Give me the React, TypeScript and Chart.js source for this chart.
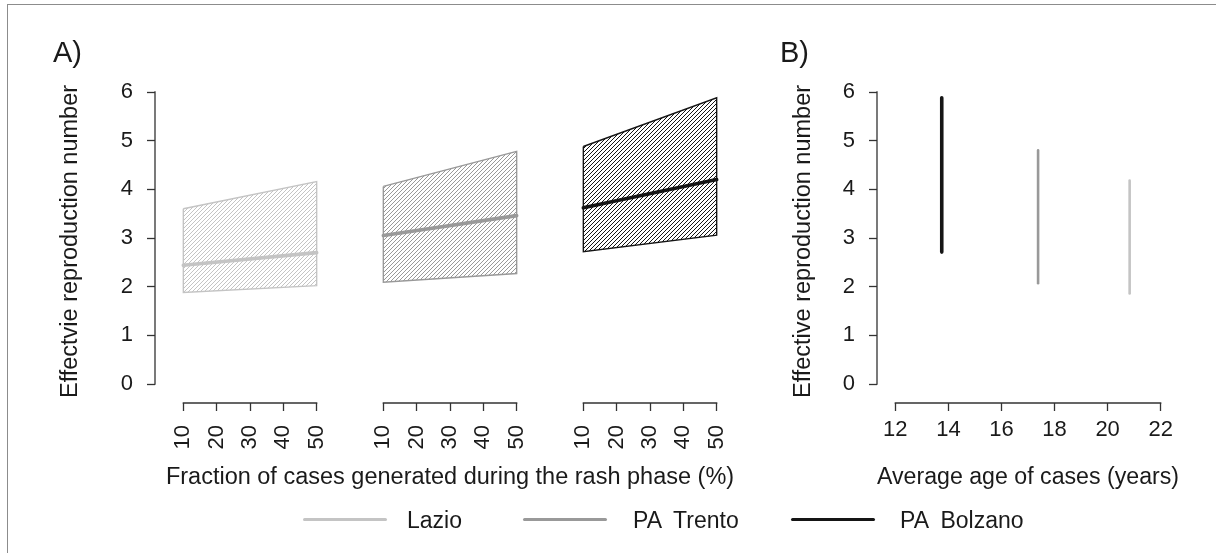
import React, { useEffect, useRef } from "react";
import { Chart, registerables } from "chart.js";

Chart.register(...registerables);

// ---------- data ----------
const regions = ["Lazio", "PA  Trento", "PA  Bolzano"];
const regionColors = ["#c4c4c4", "#999999", "#151515"];

const fractionTicks = [10, 20, 30, 40, 50];
const fractionEnds = [10, 50];
const groupShift = 60;

const lazioLow = [1.88, 2.02];
const lazioHigh = [3.6, 4.16];
const lazioMid = [2.44, 2.7];
const trentoLow = [2.09, 2.27];
const trentoHigh = [4.06, 4.78];
const trentoMid = [3.05, 3.46];
const bolzanoLow = [2.72, 3.06];
const bolzanoHigh = [4.88, 5.88];
const bolzanoMid = [3.62, 4.2];

const lowBounds = [lazioLow, trentoLow, bolzanoLow];
const highBounds = [lazioHigh, trentoHigh, bolzanoHigh];
const midLines = [lazioMid, trentoMid, bolzanoMid];

const ageOfCases = [20.83, 17.38, 13.75];
const rangeLow = [1.86, 2.07, 2.71];
const rangeHigh = [4.18, 4.8, 5.88];

const reproTicks = [0, 1, 2, 3, 4, 5, 6];
const ageTicks = [12, 14, 16, 18, 20, 22];

// ---------- style ----------
const FONT = '"Liberation Sans", Arial, Helvetica, sans-serif';
const INK = "#1a1a1a";
const AXIS = "#333333";
const TICK_FONT = { family: FONT, size: 22, lineHeight: 1.2 };
const TITLE_FONT = { family: FONT, size: 23.5, lineHeight: 1.2 };

function hatch(ctx: CanvasRenderingContext2D, color: string, size = 4, width = 1) {
  const c = document.createElement("canvas");
  c.width = size;
  c.height = size;
  const g = c.getContext("2d")!;
  g.strokeStyle = color;
  g.lineWidth = width;
  g.beginPath();
  for (let k = -1; k <= 1; k++) {
    g.moveTo(k * size, size);
    g.lineTo(k * size + size, 0);
  }
  g.stroke();
  return ctx.createPattern(c, "repeat")!;
}

function rAxes(xSegments: [number, number][], ySpan: [number, number]) {
  return {
    id: "rAxes",
    afterDraw(chart: any) {
      const { ctx, chartArea, scales } = chart;
      const x = scales.x;
      const y = scales.y;
      ctx.save();
      ctx.strokeStyle = AXIS;
      ctx.lineWidth = 1.3;
      ctx.beginPath();
      for (const [a, b] of xSegments) {
        ctx.moveTo(x.getPixelForValue(a) - 0.65, chartArea.bottom);
        ctx.lineTo(x.getPixelForValue(b) + 0.65, chartArea.bottom);
      }
      ctx.moveTo(chartArea.left, y.getPixelForValue(ySpan[0]) + 0.65);
      ctx.lineTo(chartArea.left, y.getPixelForValue(ySpan[1]) - 0.65);
      ctx.stroke();
      ctx.restore();
    },
  };
}

const gridTicks = {
  display: true,
  drawOnChartArea: false,
  drawTicks: true,
  tickLength: 8,
  tickColor: AXIS,
  tickWidth: 1.3,
};

function yScale(width: number, title: string, titlePad: number) {
  return {
    type: "linear",
    min: -0.39,
    max: 6.2466,
    afterBuildTicks: (s: any) => {
      s.ticks = reproTicks.map((v) => ({ value: v }));
    },
    afterFit: (s: any) => {
      s.width = width;
    },
    ticks: { font: TICK_FONT, color: INK, padding: 14, callback: (v: any) => String(v) },
    grid: gridTicks,
    border: { display: false },
    title: {
      display: true,
      text: title,
      font: TITLE_FONT,
      color: INK,
      padding: { top: titlePad, bottom: 0 },
    },
  };
}

export default function App() {
  const aRef = useRef<HTMLCanvasElement>(null);
  const bRef = useRef<HTMLCanvasElement>(null);

  useEffect(() => {
    const ca = aRef.current!;
    const cb = bRef.current!;
    const ctxA = ca.getContext("2d")!;

    const bandSets = regions.map((name, i) => {
      const s = i * groupShift;
      const lo = lowBounds[i];
      const hi = highBounds[i];
      return {
        label: name + " range",
        data: [
          { x: fractionEnds[0] + s, y: hi[0] },
          { x: fractionEnds[1] + s, y: hi[1] },
          { x: fractionEnds[1] + s, y: lo[1] },
          { x: fractionEnds[0] + s, y: lo[0] },
          { x: fractionEnds[0] + s, y: hi[0] },
        ],
        borderColor: regionColors[i],
        borderWidth: 1.4,
        backgroundColor: hatch(ctxA, regionColors[i], 4, 1),
        fill: "shape",
        pointRadius: 0,
        tension: 0,
        borderJoinStyle: "miter",
      };
    });
    const midSets = regions.map((name, i) => ({
      label: name,
      data: fractionEnds.map((f, j) => ({ x: f + i * groupShift, y: midLines[i][j] })),
      borderColor: regionColors[i],
      borderWidth: 3.6,
      borderCapStyle: "round",
      pointRadius: 0,
      fill: false,
      tension: 0,
    }));

    const xTicksA: number[] = [];
    regions.forEach((_, i) => fractionTicks.forEach((f) => xTicksA.push(f + i * groupShift)));

    const chartA = new Chart(ca, {
      type: "line",
      data: { datasets: [...bandSets, ...midSets] as any },
      options: {
        animation: false,
        responsive: false,
        events: [],
        layout: { padding: { top: 80, right: 15, bottom: 0, left: 0 } },
        plugins: { legend: { display: false }, tooltip: { enabled: false } },
        scales: {
          x: {
            type: "linear",
            min: 1.5,
            max: 178.5,
            afterBuildTicks: (s: any) => {
              s.ticks = xTicksA.map((v) => ({ value: v }));
            },
            afterFit: (s: any) => {
              s.height = 150;
            },
            ticks: {
              font: TICK_FONT,
              color: INK,
              padding: 14,
              autoSkip: false,
              minRotation: 90,
              maxRotation: 90,
              callback: (v: any) => String(Math.round(Number(v)) % groupShift),
            },
            grid: gridTicks,
            border: { display: false },
            title: {
              display: true,
              text: "Fraction of cases generated during the rash phase (%)",
              font: TITLE_FONT,
              color: INK,
              padding: { top: 0, bottom: 61 },
            },
          },
          y: yScale(155, "Effectvie reproduction number", 56),
        } as any,
      },
      plugins: [
        rAxes(
          regions.map((_, i) => [fractionTicks[0] + i * groupShift, fractionTicks[4] + i * groupShift]) as [number, number][],
          [0, 6]
        ),
      ],
    });

    const lineSets = regions.map((name, i) => ({
      label: name,
      data: [
        { x: ageOfCases[i], y: rangeLow[i] },
        { x: ageOfCases[i], y: rangeHigh[i] },
      ],
      borderColor: regionColors[i],
      borderWidth: i === 2 ? 3.6 : 2.6,
      borderCapStyle: "round",
      pointRadius: 0,
      fill: false,
    }));

    const chartB = new Chart(cb, {
      type: "line",
      data: { datasets: lineSets as any },
      options: {
        animation: false,
        responsive: false,
        events: [],
        layout: { padding: { top: 80, right: 37, bottom: 0, left: 0 } },
        plugins: { legend: { display: false }, tooltip: { enabled: false } },
        scales: {
          x: {
            type: "linear",
            min: 11.31,
            max: 22.69,
            afterBuildTicks: (s: any) => {
              s.ticks = ageTicks.map((v) => ({ value: v }));
            },
            afterFit: (s: any) => {
              s.height = 150;
            },
            ticks: { font: TICK_FONT, color: INK, padding: 6, autoSkip: false, maxRotation: 0, callback: (v: any) => String(v) },
            grid: gridTicks,
            border: { display: false },
            title: {
              display: true,
              text: "Average age of cases (years)",
              font: TITLE_FONT,
              color: INK,
              padding: { top: 0, bottom: 61 },
            },
          },
          y: yScale(117, "Effective reproduction number", 29),
        } as any,
      },
      plugins: [rAxes([[ageTicks[0], ageTicks[ageTicks.length - 1]]], [0, 6])],
    });

    return () => {
      chartA.destroy();
      chartB.destroy();
    };
  }, []);

  const legendItems = [
    { line: 303, text: 407 },
    { line: 523, text: 633 },
    { line: 791, text: 900 },
  ];

  return (
    <div
      style={{
        position: "absolute",
        left: 0,
        top: 0,
        width: 1216,
        height: 553,
        overflow: "hidden",
        background: "#fff",
        fontFamily: FONT,
        color: INK,
      }}
    >
      <div
        style={{
          position: "absolute",
          left: 6.5,
          top: 3.5,
          width: 1400,
          height: 800,
          border: "1.5px solid #8c8c8c",
          boxSizing: "border-box",
        }}
      />
      <canvas ref={aRef} width={760} height={553} style={{ position: "absolute", left: 0, top: 0 }} />
      <canvas ref={bRef} width={456} height={553} style={{ position: "absolute", left: 760, top: 0 }} />
      <div style={{ position: "absolute", left: 53, top: 38, fontSize: 29, lineHeight: 1 }}>A)</div>
      <div style={{ position: "absolute", left: 780, top: 38, fontSize: 29, lineHeight: 1 }}>B)</div>
      {regions.map((name, i) => (
        <React.Fragment key={name}>
          <div
            style={{
              position: "absolute",
              left: legendItems[i].line,
              top: 517.5,
              width: 84,
              height: 3.6,
              borderRadius: 2,
              background: regionColors[i],
            }}
          />
          <div
            style={{
              position: "absolute",
              left: legendItems[i].text,
              top: 508.7,
              fontSize: 23,
              lineHeight: 1,
              whiteSpace: "pre",
            }}
          >
            {name}
          </div>
        </React.Fragment>
      ))}
    </div>
  );
}
